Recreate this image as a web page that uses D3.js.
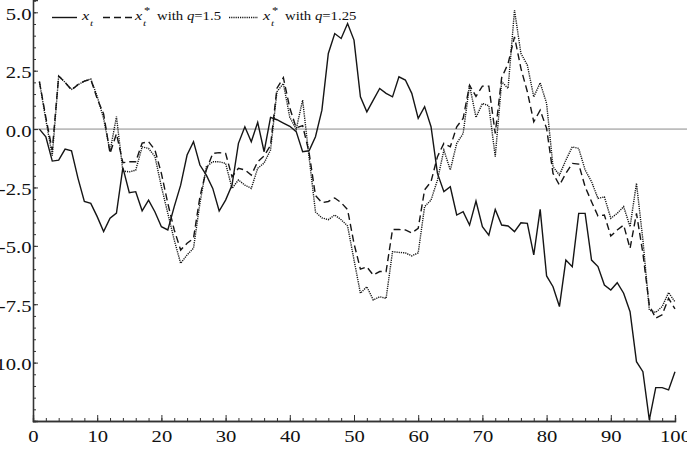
<!DOCTYPE html>
<html>
<head>
<meta charset="utf-8">
<script src="https://cdnjs.cloudflare.com/ajax/libs/d3/7.8.5/d3.min.js"></script>
<style>
body { margin: 0; background: #fff; }
text { font-family: "Liberation Serif", "Times New Roman", serif; fill: #111; }
</style>
</head>
<body>
<script>
// time index 1..100
var steps = d3.range(1, 101);

// x_t
var xt = [0, -0.33, -1.37, -1.33, -0.86, -0.93, -2.1, -3.1, -3.18, -3.75,
    -4.39, -3.82, -3.6, -1.65, -2.72, -2.68, -3.5, -3.04, -3.55, -4.18,
    -4.32, -3.32, -2.4, -1.11, -0.54, -1.54, -1.97, -2.54, -3.51, -3.04,
    -2.4, -0.61, 0.1, -0.54, 0.29, -0.97, 0.5, 0.4, 0.26, 0.12,
    -0.11, -0.97, -0.93, -0.33, 0.81, 3.24, 4.09, 3.88, 4.52, 3.81,
    1.38, 0.74, 1.24, 1.74, 1.53, 1.38, 2.24, 2.1, 1.53, 0.46,
    0.96, 0.1, -1.9, -2.68, -2.47, -3.68, -3.54, -4.11, -3.08, -4.18,
    -4.54, -3.44, -4.11, -4.15, -4.39, -4.01, -4.04, -5.39, -3.44, -6.29,
    -6.75, -7.6, -5.61, -5.89, -3.61, -3.61, -5.61, -5.89, -6.68, -6.89,
    -6.58, -7.03, -7.82, -9.96, -10.39, -12.45, -11.07, -11.07, -11.17, -10.39];

// x*_t with q=1.5
var xq15 = [2.03, 0.5, -0.9, 2.27, 2.0, 1.67, 1.9, 2.05, 2.13, 1.3,
    0.65, -1.04, -0.2, -1.44, -1.4, -1.4, -0.6, -0.54, -0.9, -1.9,
    -3.18, -4.32, -5.18, -4.89, -4.68, -2.9, -1.75, -1.04, -1.01, -1.04,
    -2.04, -1.68, -1.75, -1.97, -1.4, -1.15, -0.7, 1.75, 2.2, 0.9,
    0.05, 0.15, -1.0, -2.85, -3.15, -3.1, -2.95, -3.15, -3.45, -4.9,
    -6.0, -5.9, -6.25, -6.1, -6.1, -4.3, -4.3, -4.32, -4.45, -4.25,
    -2.6, -2.25, -1.18, -0.61, -0.76, 0.1, 0.46, 1.88, 1.4, 1.84,
    1.84, -0.19, 2.2, 2.8, 3.95, 2.6, 1.6, 0.31, 0.81, 0.03,
    -1.9, -2.4, -1.9, -1.47, -1.5, -2.47, -3.11, -3.72, -3.68, -4.58,
    -4.32, -4.11, -5.11, -3.61, -5.32, -7.55, -8.1, -7.95, -7.25, -7.7];

// x*_t with q=1.25
var xq125 = [2.03, 0.4, -1.15, 2.27, 2.0, 1.7, 1.9, 2.05, 2.15, 1.4,
    0.45, -0.95, 0.53, -1.8, -1.83, -1.76, -0.76, -0.83, -1.18, -2.47,
    -3.61, -4.75, -5.75, -5.39, -5.1, -3.18, -1.61, -1.4, -1.4, -1.47,
    -2.54, -2.18, -2.4, -2.54, -1.68, -1.45, -0.9, 1.6, 1.95, 0.5,
    0.0, 1.24, -1.2, -3.55, -3.8, -3.88, -3.68, -3.88, -4.15, -5.6,
    -7.03, -6.75, -7.32, -7.18, -7.25, -5.25, -5.28, -5.3, -5.43, -5.3,
    -3.32, -3.04, -2.18, -0.9, -1.75, -0.61, -0.19, 1.88, 0.5, 1.1,
    1.0, -1.18, 2.03, 1.74, 5.09, 3.24, 2.74, 1.38, 1.98, 1.1,
    -1.61, -1.97, -1.33, -0.76, -0.83, -1.75, -2.25, -2.97, -2.9, -3.82,
    -3.61, -3.32, -4.18, -2.32, -4.75, -7.75, -7.85, -7.6, -7.0, -7.4];

var xTickValues = [0, 10, 20, 30, 40, 50, 60, 70, 80, 90, 100];
var yTickValues = [5, 2.5, 0, -2.5, -5, -7.5, -10];

var width = 687, height = 450;
var plotLeft = 33, plotRight = 675, plotTop = 0, plotBottom = 421;
// the picture's type is a little wider than it is tall
var stretch = 1.25;
var lineColor = "#151515";

var svg = d3.select("body").append("svg")
    .attr("width", width)
    .attr("height", height);

var x = d3.scaleLinear().domain([0, 100]).range([plotLeft, plotRight]);
var y = d3.scaleLinear().domain([-12.5, 5.527]).range([plotBottom, plotTop]);

function widen(sel) {
    sel.each(function() {
        var w = this.getComputedTextLength();
        d3.select(this).attr("textLength", w * stretch).attr("lengthAdjust", "spacingAndGlyphs");
    });
}

// zero line
svg.append("line")
    .attr("x1", plotLeft).attr("x2", width)
    .attr("y1", y(0)).attr("y2", y(0))
    .style("stroke", "#8a8a8a")
    .style("stroke-width", 1);

// x axis, ticks pointing up
function xAxis(g) {
    var minor = d3.axisBottom(x).tickValues(d3.range(0, 101, 2)).tickSize(-3).tickFormat("");
    var major = d3.axisBottom(x).tickValues(xTickValues).tickSize(-6).tickPadding(9.5)
        .tickFormat(d3.format("d"));
    g.append("g").call(minor);
    g.append("g").call(major);
    g.selectAll("text").style("font-size", "16.5px");
}
svg.append("g").attr("transform", "translate(0," + plotBottom + ")").call(xAxis);

// y axis, ticks pointing right
function yAxis(g) {
    var minor = d3.axisLeft(y).tickValues(d3.range(-12.5, 5.6, 0.5)).tickSize(-3).tickFormat("");
    var major = d3.axisLeft(y).tickValues(yTickValues).tickSize(-5).tickPadding(1.5)
        .tickFormat(d3.format(".1f"));
    g.append("g").call(minor);
    g.append("g").call(major);
    g.selectAll("text").style("font-size", "16.5px").attr("dy", "0.42em");
}
svg.append("g").attr("transform", "translate(" + plotLeft + ",0)").call(yAxis);

svg.selectAll(".domain").style("stroke", "#333").style("stroke-width", 1.3);
svg.selectAll(".tick line").style("stroke", "#333");
// d3 uses a real minus sign, the picture uses a hyphen
svg.selectAll(".tick text").text(function() { return this.textContent.replace("\u2212", "-"); });
svg.selectAll(".tick text").call(widen);

function drawSeries(values, dash) {
    var line = d3.line()
        .x(function(d, i) { return x(steps[i]); })
        .y(function(d) { return y(d); });
    svg.append("path")
        .datum(values)
        .attr("d", line)
        .style("fill", "none")
        .style("stroke", lineColor)
        .style("stroke-width", 1.4)
        .style("stroke-dasharray", dash);
}

drawSeries(xt, null);
drawSeries(xq15, "7,4");
drawSeries(xq125, "1.2,1");

// legend
var legend = svg.append("g").attr("class", "legend");
var items = [
    { x1: 52, x2: 77, dash: null, tx: 82, star: false, q: null },
    { x1: 103, x2: 132, dash: "7,4", tx: 135, star: true, q: "1.5" },
    { x1: 229, x2: 258, dash: "1.2,1", tx: 263, star: true, q: "1.25" }
];
items.forEach(function(it) {
    legend.append("line")
        .attr("x1", it.x1).attr("x2", it.x2)
        .attr("y1", 17.5).attr("y2", 17.5)
        .style("stroke", lineColor)
        .style("stroke-width", 1.4)
        .style("stroke-dasharray", it.dash);
    legend.append("text").attr("x", it.tx).attr("y", 20)
        .style("font-size", "13px").style("font-style", "italic").text("x").call(widen);
    legend.append("text").attr("x", it.tx + 8).attr("y", 26)
        .style("font-size", "9px").style("font-style", "italic").text("t").call(widen);
    if (it.star) {
        legend.append("text").attr("x", it.tx + 9).attr("y", 14)
            .style("font-size", "10px").text("*").call(widen);
        var label = legend.append("text").attr("x", it.tx + 22).attr("y", 19.5)
            .style("font-size", "11.8px");
        label.append("tspan").text("with ");
        label.append("tspan").style("font-style", "italic").text("q");
        label.append("tspan").text("=" + it.q);
        label.call(widen);
    }
});
</script>
</body>
</html>
